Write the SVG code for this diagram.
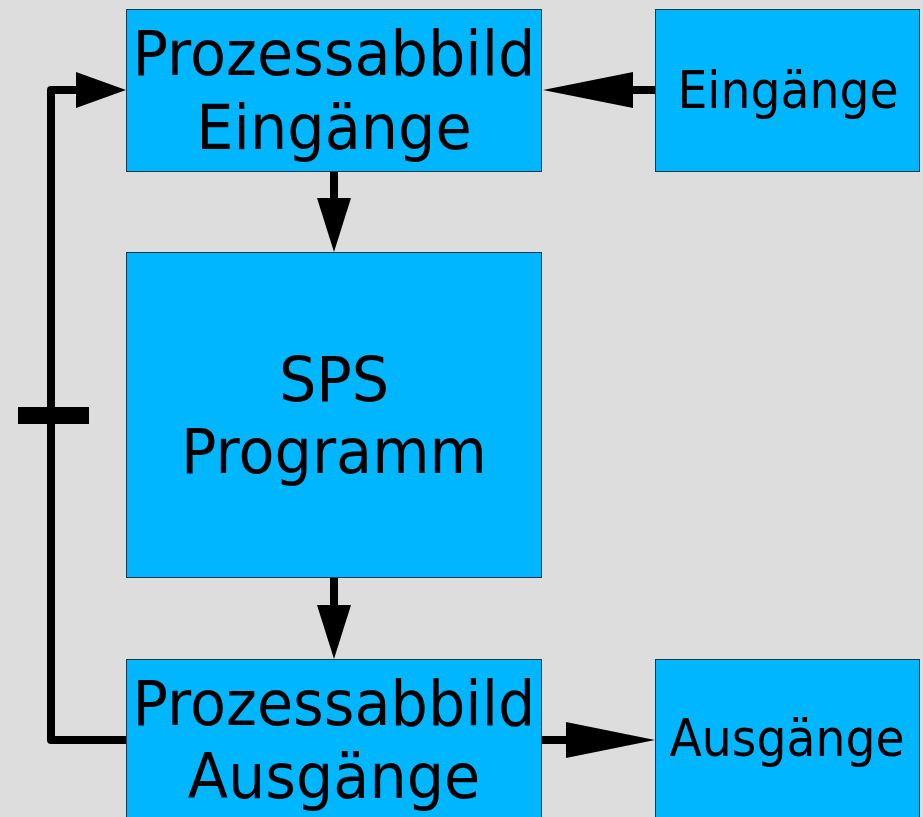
<svg xmlns="http://www.w3.org/2000/svg" width="923" height="817" viewBox="0 0 923 817">
  <style>
    .box { fill: #00b7ff; stroke: #1a3a4a; stroke-width: 1; }
    .big { font-family: "DejaVu Sans", sans-serif; font-size: 62px; fill: #000; text-anchor: middle; }
    .small { font-family: "DejaVu Sans", sans-serif; font-size: 52px; fill: #000; text-anchor: middle; }
    .wire { fill: none; stroke: #000; stroke-width: 8; }
    .head { fill: #000; }
  </style>
  <rect width="923" height="817" fill="#dddddd"/>

  <g id="connectors">
    <!-- inputs to input image -->
    <line class="wire" x1="655" y1="90" x2="630" y2="90"/>
    <polygon class="head" points="633,72 633,108 543,90"/>
    <!-- input image to program -->
    <line class="wire" x1="334" y1="171" x2="334" y2="200"/>
    <polygon class="head" points="317,198 351,198 334,252"/>
    <!-- program to output image -->
    <line class="wire" x1="334" y1="577" x2="334" y2="607"/>
    <polygon class="head" points="317,605 351,605 334,659"/>
    <!-- output image to outputs -->
    <line class="wire" x1="542" y1="740" x2="568" y2="740"/>
    <polygon class="head" points="566,722 566,758 655,740"/>
    <!-- cycle feedback -->
    <path class="wire" d="M126,740 H51 V90 H78" stroke-linejoin="round"/>
    <polygon class="head" points="76,72 76,108 126,90"/>
    <rect x="18" y="407" width="71" height="17" fill="#000"/>
  </g>

  <g id="pa-in">
    <rect class="box" x="126.5" y="9.5" width="415" height="162"/>
    <g transform="translate(334,0) scale(0.95,1)">
      <text class="big" x="0" y="75">Prozessabbild</text>
      <text class="big" x="0" y="149">Eingänge</text>
    </g>
  </g>

  <g id="inputs">
    <rect class="box" x="655.5" y="9.5" width="264" height="162"/>
    <g transform="translate(788,0) scale(0.91,1)">
      <text class="small" x="0" y="108">Eingänge</text>
    </g>
  </g>

  <g id="program">
    <rect class="box" x="126.5" y="252.5" width="415" height="325"/>
    <g transform="translate(334,0) scale(0.95,1)">
      <text class="big" x="0" y="401">SPS</text>
      <text class="big" x="0" y="473">Programm</text>
    </g>
  </g>

  <g id="pa-out">
    <rect class="box" x="126.5" y="659.5" width="415" height="170"/>
    <g transform="translate(334,0) scale(0.95,1)">
      <text class="big" x="0" y="725">Prozessabbild</text>
      <text class="big" x="0" y="798">Ausgänge</text>
    </g>
  </g>

  <g id="outputs">
    <rect class="box" x="655.5" y="659.5" width="264" height="170"/>
    <g transform="translate(787,0) scale(0.91,1)">
      <text class="small" x="0" y="756">Ausgänge</text>
    </g>
  </g>
</svg>
